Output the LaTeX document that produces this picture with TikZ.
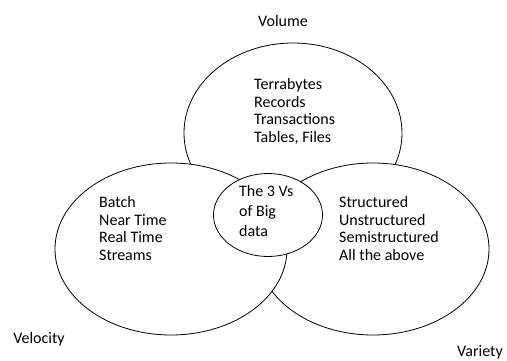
\documentclass[tikz,border=0pt]{standalone}
\usepackage{fontspec}
\setmainfont{Carlito}
\usetikzlibrary{shapes.geometric}
\tikzset{
  venn/.style 2 args = {ellipse, draw, fill=white, line width=0.8pt,
                inner sep=0pt, minimum width=#1, minimum height=#2},
  items/.style = {anchor=north west, align=left, inner sep=0pt,
                font=\fontsize{16}{#1}\selectfont},
  items/.default = 17.7,
  vlabel/.style = {inner sep=0pt, font=\fontsize{16}{18}\selectfont}
}

\begin{document}
\begin{tikzpicture}[x=1pt,y=1pt]
	\useasboundingbox (0,0) rectangle (507,360);
	
	% Sets (top first, right under left)
	\node[venn={218}{180}] (volume)   at (293,227) {};
	\node[venn={232}{172}] (variety)  at (373,111) {};
	\node[venn={232}{172}] (velocity) at (171,111) {};
	\node[venn={109}{83}]  (core)     at (268,145) {};
	
	% Contents
	\node[items] (volumeItems)   at (254,282) {Terrabytes\\Records\\Transactions\\Tables, Files};
	\node[items] (velocityItems) at (99,164)  {Batch\\Near Time\\Real Time\\Streams};
	\node[items] (varietyItems)  at (339,164) {Structured\\Unstructured\\Semistructured\\All the above};
	\node[items=20] (coreItems)  at (239,175) {The 3 Vs\\of Big\\data};
	
	% The three Vs
	\node[vlabel] (volumeLabel)   at (283,339) {Volume};
	\node[vlabel] (velocityLabel) at (39,21)   {Velocity};
	\node[vlabel] (varietyLabel)  at (480,8)   {Variety};
	
\end{tikzpicture}
\end{document}
